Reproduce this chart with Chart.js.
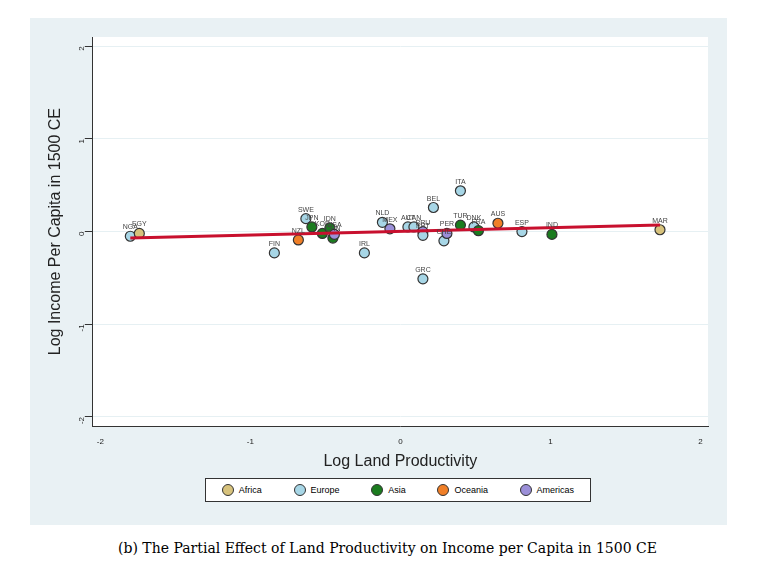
<!DOCTYPE html>
<html><head><meta charset="utf-8">
<script src="https://cdn.jsdelivr.net/npm/chart.js@4"></script>
<style>
body{margin:0;background:#fff;width:775px;height:574px;position:relative;font-family:"Liberation Sans",Arial,sans-serif}
#bg{position:absolute;left:30px;top:18px;width:697px;height:507px;background:#e9f1f4}
#wrap{position:absolute;left:30px;top:18px;width:697px;height:455px}
#leg{position:absolute;left:205px;top:478px;width:384px;height:22px;border:1px solid #333;background:#fff;display:flex;align-items:center;justify-content:space-around;font-size:9px}
#leg span{display:flex;align-items:center}
#leg i{display:inline-block;width:10px;height:10px;border-radius:50%;border:1px solid #333;margin-right:5px}
#cap{position:absolute;left:0;width:775px;top:540px;text-align:center;font-family:"DejaVu Serif","Liberation Serif",serif;font-size:14px}
</style></head><body>
<div id="bg"></div>
<div id="wrap"><canvas id="c"></canvas></div>
<div id="leg"></div>
<div id="cap">(b) The Partial Effect of Land Productivity on Income per Capita in 1500 CE</div>
<script>
const regions = ["Africa", "Europe", "Asia", "Oceania", "Americas"];
const regionColors = ["#d7c27c", "#a7d6e6", "#1b7c1f", "#f07f27", "#9b8fd8"];
const codes = ["NGA","EGY","SWE","FIN","NZL","JPN","KOR","IDN","CHN","USA","IRL","NLD","MEX","AUT","CAN","PRU","PRT","BEL","ITA","GRC","CHE","PER","TUR","DNK","FRA","AUS","ESP","IND","MAR"];
const codeRegion = [1,0,1,1,3,2,2,2,2,4,1,1,4,1,1,4,1,1,1,1,1,4,2,1,2,3,1,2,0];
const xs = [-1.80,-1.74,-0.63,-0.84,-0.68,-0.59,-0.52,-0.47,-0.45,-0.44,-0.24,-0.12,-0.07,0.05,0.09,0.15,0.15,0.22,0.40,0.15,0.29,0.31,0.40,0.49,0.52,0.65,0.81,1.01,1.73];
const ys = [-0.05,-0.02,0.14,-0.23,-0.09,0.05,-0.02,0.04,-0.07,-0.03,-0.23,0.10,0.03,0.05,0.05,0.00,-0.04,0.26,0.44,-0.51,-0.10,-0.02,0.07,0.05,0.01,0.09,0.00,-0.03,0.02];
const fitX = [-1.80, 1.73];
const fitY = [-0.07, 0.07];
const tickVals = [-2, -1, 0, 1, 2];

const pts = xs.map((x, i) => ({x: x, y: ys[i], c: codes[i]}));
const labelPlugin = {
  id: "lbl",
  beforeDraw(ch) {
    const a = ch.chartArea, ctx = ch.ctx;
    ctx.save(); ctx.fillStyle = "#fff"; ctx.fillRect(a.left, a.top, a.right - a.left, a.bottom - a.top); ctx.restore();
  },
  afterDatasetsDraw(ch) {
    const ctx = ch.ctx, m = ch.getDatasetMeta(1);
    ctx.save(); ctx.font = "7px 'Liberation Sans'"; ctx.fillStyle = "#444"; ctx.textAlign = "center";
    m.data.forEach((p, i) => ctx.fillText(pts[i].c, p.x, p.y - 7));
    ctx.restore();
  }
};
new Chart("c", {
  data: {
    datasets: [
      {type: "line", data: fitX.map((x, i) => ({x: x, y: fitY[i]})), borderColor: "#c8102e", borderWidth: 3, pointRadius: 0, order: 0},
      {type: "scatter", data: pts, pointRadius: 5, borderColor: "#333", borderWidth: 1.2,
       backgroundColor: codeRegion.map(r => regionColors[r]), order: 1}
    ]
  },
  options: {
    animation: false, maintainAspectRatio: false,
    layout: {padding: {left: 12, right: 19, top: 19, bottom: 0}},
    plugins: {legend: {display: false}, tooltip: {enabled: false}},
    scales: {
      x: {type: "linear", min: -2.05, max: 2.05, afterBuildTicks: s => { s.ticks = tickVals.map(v => ({value: v})); },
          grid: {display: false, drawTicks: true}, border: {color: "#333"},
          ticks: {color: "#222", font: {size: 8}},
          title: {display: true, text: "Log Land Productivity", color: "#222", font: {size: 16}, padding: 2}},
      y: {type: "linear", min: -2.1, max: 2.1, afterBuildTicks: s => { s.ticks = tickVals.map(v => ({value: v})); },
          grid: {color: "#e6f0f3", drawTicks: true, tickColor: "#333"}, border: {color: "#333"},
          ticks: {color: "#222", font: {size: 8}, minRotation: 90, maxRotation: 90},
          title: {display: true, text: "Log Income Per Capita in 1500 CE", color: "#222", font: {size: 16}}}
    }
  },
  plugins: [labelPlugin]
});
document.getElementById("leg").innerHTML = regions.map((r, i) =>
  `<span><i style="background:${regionColors[i]}"></i>${r}</span>`).join("");
</script>
</body></html>
